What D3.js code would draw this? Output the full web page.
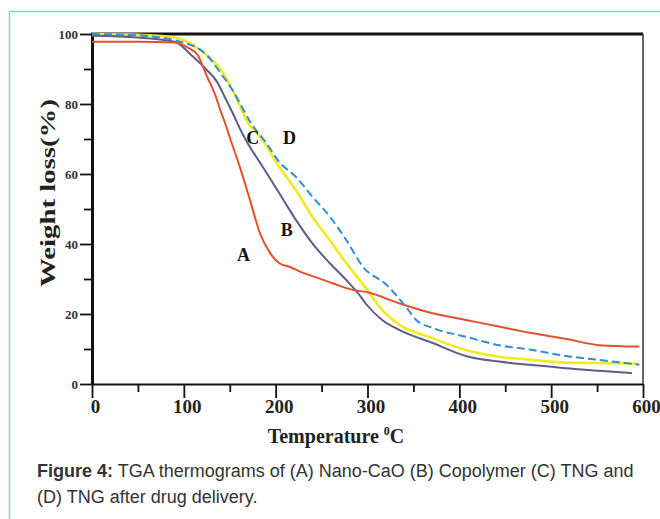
<!DOCTYPE html>
<html>
<head>
<meta charset="utf-8">
<script src="https://cdn.jsdelivr.net/npm/d3@7"></script>
<style>
  body { margin: 0; background: #fff; }
  svg { display: block; }
</style>
</head>
<body>
<script>
// TGA thermograms (temperature in degC, weight %)
const tempA   = [0, 50, 90, 105, 115, 125, 135, 139, 145, 150, 161, 172, 183, 194, 204, 215, 226, 245, 262, 284, 300, 335, 371, 407, 443, 480, 516, 552, 596];
const weightA = [97.8, 97.8, 97.6, 96, 94, 88, 82, 78.8, 74.5, 70.5, 62, 52.6, 43, 37.4, 34.5, 33.5, 32.2, 30.4, 28.8, 26.9, 26.2, 23, 20.2, 18.3, 16.4, 14.5, 12.9, 11.1, 10.7];

const tempB   = [0, 50, 90, 108, 125, 136, 145, 154, 161, 168, 186, 204, 222, 240, 259, 277, 291, 298, 316, 335, 371, 407, 443, 480, 516, 552, 588];
const weightB = [99.5, 99, 97.8, 94, 89.7, 86.4, 81.8, 77, 73, 69.5, 62, 54.5, 46.9, 40.2, 34.5, 29.7, 25.5, 23, 18.3, 15.4, 11.7, 8, 6.4, 5.4, 4.5, 3.8, 3.1];

const tempC   = [0, 50, 90, 120, 142, 154, 161, 168, 183, 204, 222, 240, 259, 277, 298, 316, 335, 371, 407, 443, 480, 516, 552, 596];
const weightC = [100, 99.8, 99, 95, 89.2, 83.5, 79.5, 75.4, 70.7, 62, 55.4, 47.8, 41.1, 34.5, 27.5, 21.1, 16.9, 13.1, 9.7, 7.8, 6.9, 6.1, 6, 5.8];

const tempD   = [0, 50, 96, 125, 139, 154, 164, 172, 190, 204, 222, 240, 259, 277, 295, 320, 342, 353, 371, 407, 443, 480, 516, 552, 596];
const weightD = [100, 99.6, 97.8, 94, 89.2, 83.5, 78.8, 75, 68.8, 63.4, 59.2, 53.5, 47.8, 41.1, 33.5, 28.5, 22, 18.3, 16, 13.5, 11.1, 9.7, 8, 6.9, 5.5];

const seriesNames = ["A", "B", "C", "D"];
const seriesColors = ["#e5502b", "#5c5e88", "#f3ea1e", "#2f8fd8"];
const labelPos = [[165, 37], [212, 44], [175, 70.5], [215, 70.5]]; // [temp, weight] where the letter sits

const xTicks = [0, 100, 200, 300, 400, 500, 600];
const xMinor = [50, 150, 250, 350, 450, 550];
const yTicks = [0, 20, 40, 60, 80, 100];
const yMinor = [10, 30, 50, 70, 90];

const W = 660, H = 519;
const margin = {left: 92, right: 17, top: 34, bottom: 135};

const svg = d3.select("body").append("svg")
  .attr("width", W)
  .attr("height", H);

// teal frame around the figure
svg.append("path")
  .attr("d", "M9.5," + H + "V11.5H" + W)
  .attr("fill", "none")
  .attr("stroke", "#7dd6c6")
  .attr("stroke-width", 1.5);

var x = d3.scaleLinear().domain([0, 600]).range([margin.left, W - margin.right]);
var y = d3.scaleLinear().domain([0, 100]).range([H - margin.bottom, margin.top]);

let serif = "'Liberation Serif', 'Times New Roman', serif";

// minor ticks first
svg.append("g")
  .attr("transform", "translate(0," + y(0) + ")")
  .call(d3.axisBottom(x).tickValues(xMinor).tickSize(8).tickFormat(""))
  .call(g => g.select(".domain").remove())
  .selectAll("line").attr("stroke", "#111").attr("stroke-width", 1.8);

svg.append("g")
  .attr("transform", "translate(" + x(0) + ",0)")
  .call(d3.axisLeft(y).tickValues(yMinor).tickSize(8).tickFormat(""))
  .call(g => g.select(".domain").remove())
  .selectAll("line").attr("stroke", "#111").attr("stroke-width", 1.8);

// x axis
var xAxis = svg.append("g")
  .attr("transform", "translate(0," + y(0) + ")")
  .call(d3.axisBottom(x).tickValues(xTicks).tickSize(14).tickPadding(2).tickSizeOuter(0));
xAxis.select(".domain").attr("stroke", "#111").attr("stroke-width", 2);
xAxis.selectAll("line").attr("stroke", "#111").attr("stroke-width", 1.8);
xAxis.selectAll("text")
  .attr("font-family", serif)
  .attr("font-weight", "bold")
  .attr("font-size", 19)
  .attr("fill", "#222")
  .attr("dx", 3);

// y axis
var yAxis = svg.append("g")
  .attr("transform", "translate(" + x(0) + ",0)")
  .call(d3.axisLeft(y).tickValues(yTicks).tickSize(12).tickPadding(2).tickSizeOuter(0));
yAxis.select(".domain").attr("stroke", "#111").attr("stroke-width", 3);
yAxis.selectAll("line").attr("stroke", "#111").attr("stroke-width", 1.8);
yAxis.selectAll("text")
  .attr("font-family", serif)
  .attr("font-weight", "bold")
  .attr("font-size", 13)
  .attr("fill", "#333");

// top and right borders
svg.append("line")
  .attr("x1", x(0) - 1).attr("x2", x(600))
  .attr("y1", y(100)).attr("y2", y(100))
  .attr("stroke", "#111").attr("stroke-width", 3);
svg.append("line")
  .attr("x1", x(600)).attr("x2", x(600))
  .attr("y1", y(100)).attr("y2", y(0))
  .attr("stroke", "#333").attr("stroke-width", 1.5);

// curves
let line = d3.line()
  .x(d => x(d[0]))
  .y(d => y(d[1]))
  .curve(d3.curveMonotoneX);

let temps = [tempA, tempB, tempC, tempD];
let weights = [weightA, weightB, weightC, weightD];

// draw yellow first so the others sit over it, as in the figure
[2, 1, 0, 3].forEach(i => {
  svg.append("path")
    .datum(d3.zip(temps[i], weights[i]))
    .attr("fill", "none")
    .attr("stroke", seriesColors[i])
    .attr("stroke-width", i == 2 ? 2.6 : 2)
    .attr("stroke-dasharray", seriesNames[i] == "D" ? "8,4" : null)
    .attr("d", line);
});

// curve letters
svg.selectAll(".lbl")
  .data(seriesNames)
  .enter().append("text")
  .attr("class", "lbl")
  .attr("x", (d, i) => x(labelPos[i][0]))
  .attr("y", (d, i) => y(labelPos[i][1]))
  .attr("text-anchor", "middle")
  .attr("dy", "0.35em")
  .attr("font-family", serif)
  .attr("font-weight", "bold")
  .attr("font-size", 18)
  .attr("fill", "#111")
  .text(d => d);

// axis titles
let xTitle = svg.append("text")
  .attr("x", 336)
  .attr("y", 443)
  .attr("text-anchor", "middle")
  .attr("font-family", serif)
  .attr("font-weight", "bold")
  .attr("font-size", 20)
  .attr("fill", "#222");
xTitle.append("tspan").text("Temperature ");
xTitle.append("tspan").attr("font-size", 12).attr("dy", -8).text("0");
xTitle.append("tspan").attr("dy", 8).text("C");

svg.append("text")
  .attr("transform", "translate(55,193) rotate(-90)")
  .attr("text-anchor", "middle")
  .attr("font-family", serif)
  .attr("font-weight", "bold")
  .attr("font-size", 22)
  .attr("textLength", 188)
  .attr("lengthAdjust", "spacingAndGlyphs")
  .attr("fill", "#222")
  .text("Weight loss(%)");

// caption
let caption = svg.append("g")
  .attr("font-family", "'Liberation Sans', Arial, sans-serif")
  .attr("font-size", 18)
  .attr("fill", "#333");
let cap1 = caption.append("text").attr("x", 37).attr("y", 477);
cap1.append("tspan").attr("font-weight", "bold").text("Figure 4:");
cap1.append("tspan").text(" TGA thermograms of (A) Nano-CaO (B) Copolymer (C) TNG and");
caption.append("text").attr("x", 37).attr("y", 503).text("(D) TNG after drug delivery.");
</script>
</body>
</html>
